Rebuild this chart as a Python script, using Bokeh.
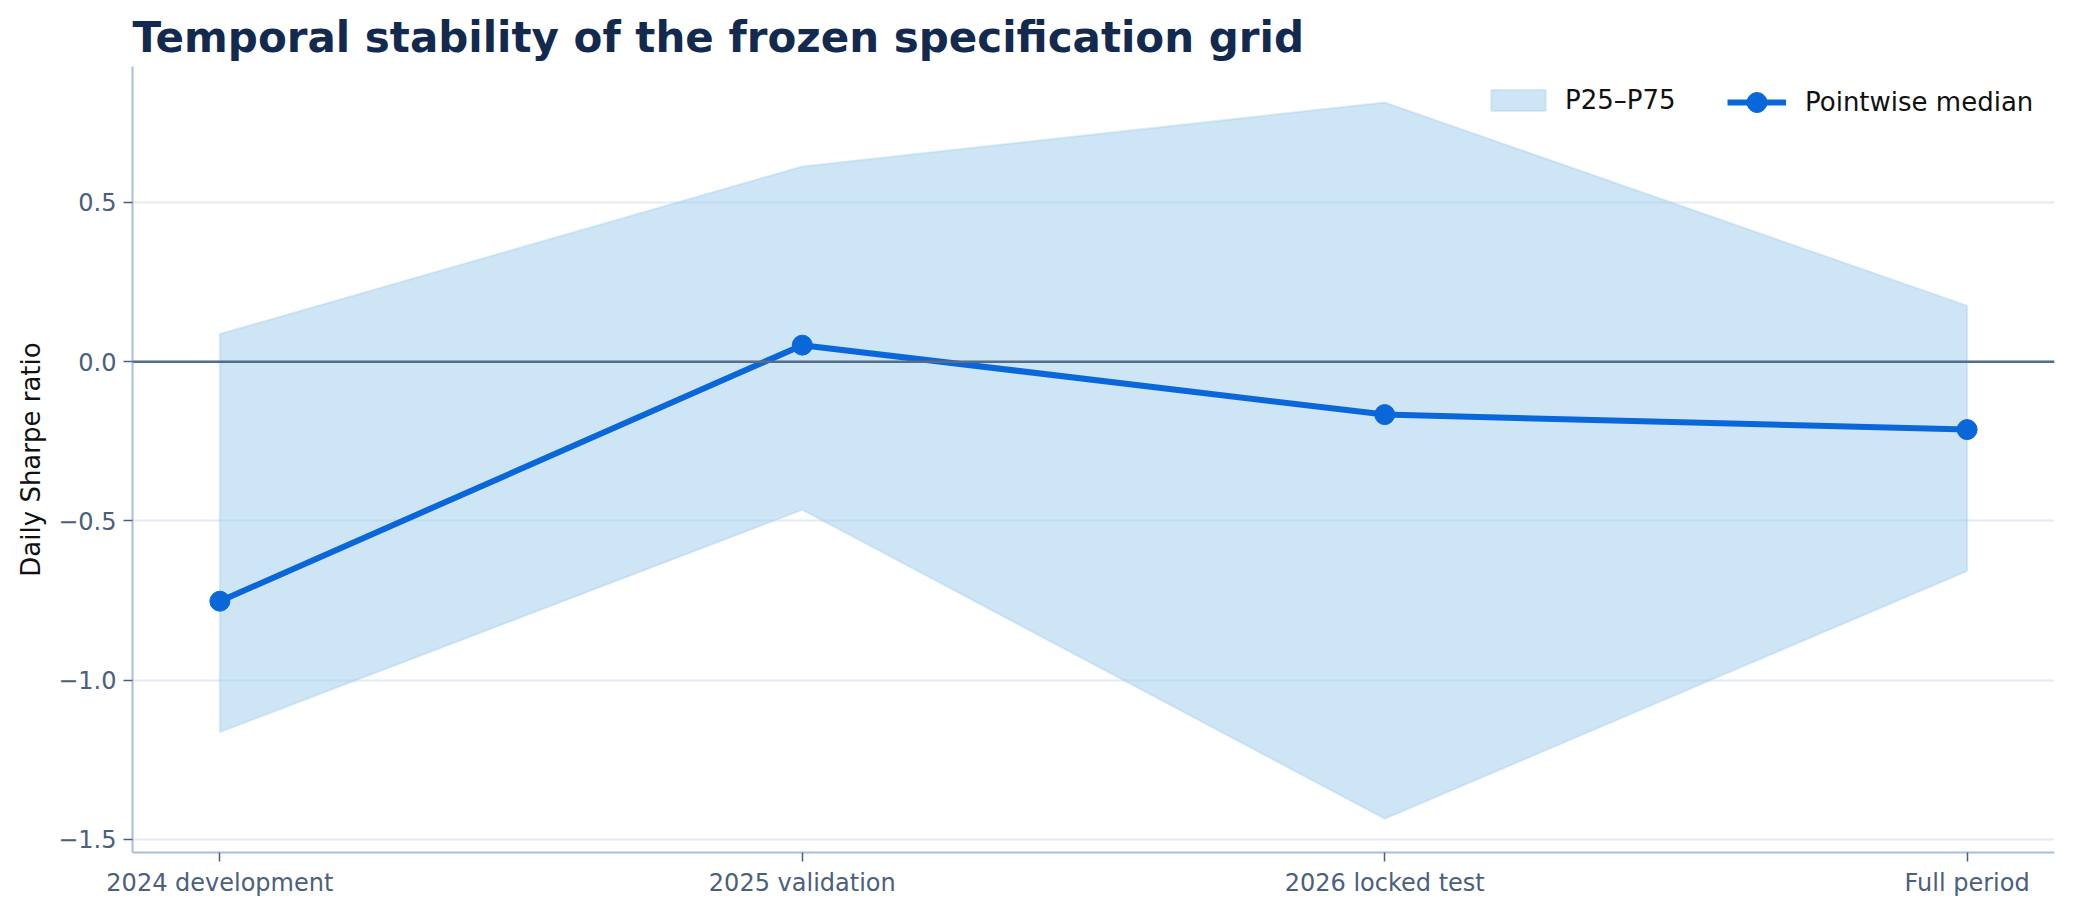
from bokeh.plotting import figure
from bokeh.models import (Range1d, FixedTicker, CustomJSTickFormatter, Span,
                          Legend, LegendItem)
from bokeh.embed import file_html
from bokeh.resources import INLINE

# ---- data ----
categories = ["2024 development", "2025 validation", "2026 locked test", "Full period"]
median = [-0.752, 0.052, -0.166, -0.213]
p25 = [-1.163, -0.465, -1.435, -0.657]
p75 = [0.087, 0.613, 0.814, 0.176]
y_ticks = [-1.5, -1.0, -0.5, 0.0, 0.5]

x = list(range(len(categories)))

FONT = "DejaVu Sans"
TICK_COLOR = "#4b607c"
BLUE = "#0a67d9"

p = figure(width=2057, height=899, output_backend="svg", toolbar_location=None,
           x_range=Range1d(-0.15, 3.15), y_range=Range1d(-1.541, 0.927),
           min_border_left=132, min_border_right=3, min_border_top=66,
           min_border_bottom=46)
p.background_fill_color = "white"
p.border_fill_color = "white"
p.outline_line_color = None

# title
p.title.text = "Temporal stability of the frozen specification grid"
p.title.text_font = FONT
p.title.text_font_size = "42px"
p.title.text_font_style = "bold"
p.title.text_color = "#132a4e"
p.title.align = "left"
p.title.standoff = 9

# band
band_x = x + x[::-1]
band_y = p75 + p25[::-1]
band = p.patch(band_x, band_y, fill_color="#9ecbeb", fill_alpha=0.5,
               line_color="#9ecbeb", line_alpha=0.35, line_width=2)

# zero line
p.add_layout(Span(location=0, dimension="width", line_color="#556d88",
                  line_width=2.5))

# median
ln = p.line(x, median, line_color=BLUE, line_width=6)
pts = p.scatter(x, median, size=20, fill_color=BLUE, line_color=BLUE)

# axes
xa = p.xaxis[0]
xa.ticker = FixedTicker(ticks=x)
xa.major_label_overrides = {i: c for i, c in zip(x, categories)}
ya = p.yaxis[0]
ya.ticker = FixedTicker(ticks=y_ticks)
ya.formatter = CustomJSTickFormatter(code="return tick.toFixed(1).replace('-', '\u2212');")
ya.axis_label = "Daily Sharpe ratio"
ya.axis_label_text_font = FONT
ya.axis_label_text_font_size = "26px"
ya.axis_label_text_font_style = "normal"
ya.axis_label_text_color = "#111111"
ya.axis_label_standoff = 9

for ax in (xa, ya):
    ax.axis_line_color = "#a9bfd7"
    ax.axis_line_width = 2
    ax.major_tick_line_color = TICK_COLOR
    ax.major_tick_line_width = 1.5
    ax.major_tick_out = 9
    ax.major_tick_in = 0
    ax.minor_tick_line_color = None
    ax.major_label_text_font = FONT
    ax.major_label_text_font_size = "24px"
    ax.major_label_text_color = TICK_COLOR
ya.major_label_standoff = 7
xa.major_label_standoff = 7

p.xgrid.grid_line_color = None
p.ygrid.ticker = FixedTicker(ticks=y_ticks)
p.ygrid.grid_line_color = "#e3ecf6"
p.ygrid.grid_line_width = 2


def style_legend(lg):
    lg.label_text_font = FONT
    lg.label_text_font_size = "26px"
    lg.label_text_color = "#111111"
    lg.border_line_color = None
    lg.background_fill_alpha = 0
    lg.margin = 0
    lg.padding = 0


# band legend (patch drawn at 80% of glyph box)
leg_band = Legend(items=[LegendItem(label="P25\u2013P75", renderers=[band])],
                  location=(1352, 737))
style_legend(leg_band)
leg_band.glyph_width = 68
leg_band.glyph_height = 26
leg_band.label_height = 26
leg_band.label_standoff = 13
p.add_layout(leg_band)

# median legend (marker drawn at 40% of glyph box height)
leg_med = Legend(items=[LegendItem(label="Pointwise median", renderers=[ln, pts])],
                 location=(1595, 725))
style_legend(leg_med)
leg_med.glyph_width = 59
leg_med.glyph_height = 50
leg_med.label_height = 50
leg_med.label_standoff = 19
p.add_layout(leg_med)

open("out.html", "w").write(file_html(p, INLINE))
